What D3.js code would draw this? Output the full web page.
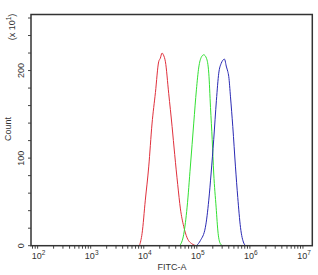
<!DOCTYPE html>
<html lang="en">
<head>
<meta charset="utf-8">
<title>FITC-A histogram</title>
<script type="text/javascript" src="https://d3js.org/d3.v7.min.js"></script>
<style>
body { margin: 0; background: #fff; }
text { font-family: "Liberation Sans", Arial, sans-serif; fill: #333; }
</style>
</head>
<body>
<div id="container"></div>
<script type="text/javascript">
var w = 318;
var h = 275;

// histogram data: [FITC-A value, count (x10^1)]
var redCurve = [[8.3e3,0],[9.3e3,14],[1.07e4,52],[1.24e4,90],[1.43e4,139],[1.66e4,175],[1.91e4,210],[2.05e4,214],
  [2.21e4,220],[2.34e4,218],[2.56e4,210],[2.95e4,174],[3.42e4,136],[3.83e4,104],[4.36e4,70],[4.91e4,42],
  [5.66e4,22],[6.56e4,9],[8.15e4,2],[9.6e4,0]];
var greenCurve = [[4.75e4,0],[5.66e4,13],[6.56e4,44],[7.57e4,91],[8.75e4,140],[9.82e4,178],[1.09e5,204],[1.21e5,215],
  [1.35e5,218],[1.52e5,214],[1.68e5,197],[1.81e5,158],[1.95e5,121],[2.08e5,83],[2.31e5,44],[2.52e5,14],
  [2.79e5,2],[3.04e5,0]];
var blueCurve = [[9.82e4,0],[1.17e5,6],[1.45e5,21],[1.68e5,52],[1.86e5,83],[2.08e5,121],[2.34e5,166],[2.59e5,197],
  [2.87e5,208],[3.32e5,213],[3.62e5,204],[3.83e5,199],[4.0e5,193],[4.31e5,170],[4.76e5,136],[5.35e5,90],
  [5.91e5,55],[6.65e5,21],[7.67e5,3],[8.4e5,0]];
var xMajor = [2, 3, 4, 5, 6, 7];   // exponents of 10
var yLabels = [0, 100, 200];

var svg = d3.select("#container").append("svg").attr("width", w).attr("height", h);

var mLeft = 31, mRight = 312.3, mTop = 14.5, mBottom = 245.7;
var x = d3.scaleLog().domain([75, 1.5e7]).range([mLeft, mRight]);
var y = d3.scaleLinear().domain([0, 264]).range([mBottom, mTop]);

// x ticks: minor 2..9 per decade + majors
var xTicks = [];
for (var e = 1; e <= 7; e++) {
  for (var m = 1; m <= 9; m++) {
    var v = m * Math.pow(10, e);
    if (v >= 75 && v <= 1.5e7) xTicks.push(v);
  }
}
svg.selectAll("line.xt").data(xTicks).enter().append("line")
  .attr("x1", function(d) { return x(d); }).attr("x2", function(d) { return x(d); })
  .attr("y1", mBottom).attr("y2", mBottom + 3)
  .attr("stroke", "#444").attr("stroke-width", 1);

var xl = svg.selectAll("text.xl").data(xMajor).enter().append("text")
  .attr("x", function(d) { return x(Math.pow(10, d)) + 1; })
  .attr("y", 258.5)
  .attr("text-anchor", "middle")
  .style("font-size", "9px");
xl.append("tspan").text("10");
xl.append("tspan").attr("dy", -3.5).style("font-size", "6.5px").text(function(d) { return d; });

// y ticks every 20
svg.selectAll("line.yt").data(d3.range(0, 261, 20)).enter().append("line")
  .attr("x1", mLeft - 3).attr("x2", mLeft)
  .attr("y1", function(d) { return y(d); }).attr("y2", function(d) { return y(d); })
  .attr("stroke", "#444").attr("stroke-width", 1);

svg.selectAll("text.yl").data(yLabels).enter().append("text")
  .attr("transform", function(d) { return "translate(23.5," + y(d) + ") rotate(-90)"; })
  .attr("text-anchor", "middle")
  .style("font-size", "9px")
  .text(function(d) { return d; });

svg.append("text").attr("transform", "translate(11,129) rotate(-90)")
  .attr("text-anchor", "middle").style("font-size", "9px").text("Count");
var ux = svg.append("text").attr("transform", "translate(14.5,27) rotate(-90)")
  .attr("text-anchor", "middle").style("font-size", "9px");
ux.append("tspan").text("(x 10");
ux.append("tspan").attr("dy", -3.5).style("font-size", "6.5px").text("1");
ux.append("tspan").attr("dy", 3.5).text(")");

svg.append("text").attr("x", 172).attr("y", 270).attr("text-anchor", "middle")
  .style("font-size", "9px").text("FITC-A");

// curves
var line = d3.line().x(function(d) { return x(d[0]); }).y(function(d) { return y(d[1]); }).curve(d3.curveMonotoneX);
var curves = [[redCurve, "#e0303c"], [greenCurve, "#33e033"], [blueCurve, "#2a2ab4"]];
curves.forEach(function(c) {
  svg.append("path").datum(c[0]).attr("d", line)
    .attr("fill", "none").attr("stroke", c[1]).attr("stroke-width", 1);
});

// frame
svg.append("rect").attr("x", mLeft).attr("y", mTop).attr("width", mRight - mLeft).attr("height", mBottom - mTop)
  .attr("fill", "none").attr("stroke", "#333").attr("stroke-width", 1.5);
</script>
</body>
</html>
